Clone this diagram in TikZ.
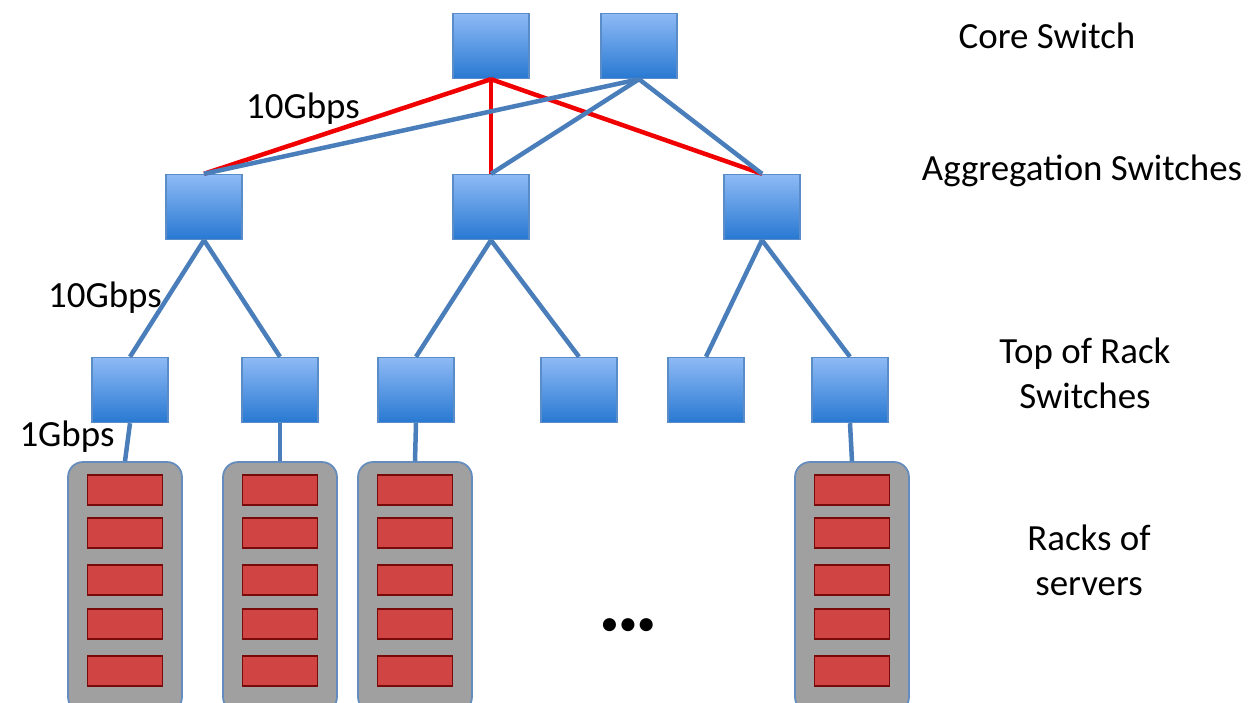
\documentclass[tikz,border=0pt]{standalone}
\usepackage{fontspec}
\setmainfont{Carlito}
\usetikzlibrary{positioning}
\definecolor{swtop}{RGB}{142,186,245}
\definecolor{swbot}{RGB}{40,120,210}
\definecolor{swedge}{RGB}{90,140,200}
\definecolor{linkblue}{RGB}{74,126,187}
\definecolor{linkred}{RGB}{240,0,0}
\definecolor{rackgray}{RGB}{160,160,160}
\definecolor{rackedge}{RGB}{100,140,190}
\definecolor{srvred}{RGB}{208,68,68}
\definecolor{srvedge}{RGB}{120,10,10}

\begin{document}
\begin{tikzpicture}[x=0.02cm, y=-0.02cm,
  sw/.style={draw=swedge, line width=0.8pt, top color=swtop, bottom color=swbot,
             minimum width=1.52cm, minimum height=1.3cm, inner sep=0pt},
  rack/.style={draw=rackedge, line width=1pt, fill=rackgray, rounded corners=0.3cm,
               minimum width=2.28cm, minimum height=5cm, inner sep=0pt},
  srv/.style={draw=srvedge, line width=0.8pt, fill=srvred,
              minimum width=1.5cm, minimum height=0.6cm, inner sep=0pt},
  link/.style={line width=0.09cm, color=linkblue},
  redlink/.style={link, color=linkred},
  label/.style={font=\fontsize{21}{25.6}\selectfont, align=center, inner sep=0pt}
]
\useasboundingbox (0,0) rectangle (1252,703);

% Core layer
\node[sw] (core1) at (491,46) {};
\node[sw] (core2) at (639,46) {};

% Aggregation layer
\node[sw] (agg1) at (204,207) {};
\node[sw] (agg2) at (491,207) {};
\node[sw] (agg3) at (762,207) {};

% Top of rack
\node[sw] (tor1) at (130,390) {};
\node[sw] (tor2) at (280,390) {};
\node[sw] (tor3) at (416,390) {};
\node[sw] (tor4) at (579,390) {};
\node[sw] (tor5) at (706,390) {};
\node[sw] (tor6) at (850,390) {};

% Racks of servers
\node[rack] (rack1) at (125,587) {};
\node[rack] (rack2) at (280,587) {};
\node[rack] (rack3) at (415,587) {};
\node[rack] (rack4) at (852,587) {};
\foreach \r/\x in {rack1/125, rack2/280, rack3/415, rack4/852}
  \foreach \y [count=\i] in {490,533,580,624,671}
    \node[srv] (\r-s\i) at (\x,\y) {};

% Connections --- core to aggregation
\draw[redlink] (core1.south) -- (agg1.north);
\draw[redlink] (core1.south) -- (agg2.north);
\draw[redlink] (core1.south) -- (agg3.north);
\draw[link] (core2.south) -- (agg1.north);
\draw[link] (core2.south) -- (agg2.north);
\draw[link] (core2.south) -- (agg3.north);

% Connections --- aggregation to top of rack
\draw[link] (agg1.south) -- (tor1.north);
\draw[link] (agg1.south) -- (tor2.north);
\draw[link] (agg2.south) -- (tor3.north);
\draw[link] (agg2.south) -- (tor4.north);
\draw[link] (agg3.south) -- (tor5.north);
\draw[link] (agg3.south) -- (tor6.north);

% Connections --- top of rack to racks
\draw[link] (tor1.south) -- (rack1.north);
\draw[link] (tor2.south) -- (rack2.north);
\draw[link] (tor3.south) -- (rack3.north);
\draw[link] (tor6.south) -- (rack4.north);

% Link speeds
\node[label] (bw_core) at (303,109) {10Gbps};
\node[label] (bw_agg)  at (105,298) {10Gbps};
\node[label] (bw_tor)  at (67,437)  {1Gbps};

% Layer names
\node[label] (lay_core) at (1047,36)  {Core Switch};
\node[label] (lay_agg)  at (1082,171) {Aggregation Switches};
\node[label] (lay_tor)  at (1085,373) {Top of Rack\\Switches};
\node[label] (lay_rack) at (1089,560) {Racks of\\servers};

\node[label, font=\fontsize{21}{25}\selectfont] (more) at (628,627) {•••};

\end{tikzpicture}
\end{document}
